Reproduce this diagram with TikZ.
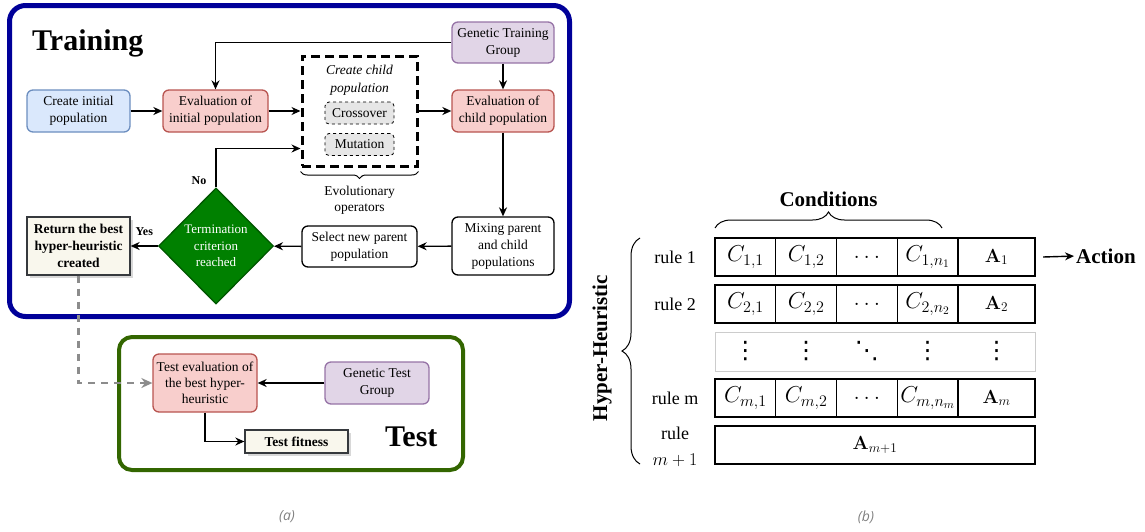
\documentclass[tikz,border=0pt]{standalone}
\usepackage{fix-cm}
\usepackage[no-math]{fontspec}
\setmainfont{Liberation Serif}
\newfontfamily\capfont{Open Sans}
\newfontfamily\dotsfont{DejaVu Sans}
\usetikzlibrary{positioning,shapes.geometric,arrows.meta,decorations.pathreplacing,shadows}

\definecolor{trainblue}{HTML}{000099}
\definecolor{testgreen}{HTML}{336600}
\definecolor{startfill}{HTML}{DAE8FC}
\definecolor{startline}{HTML}{6C8EBF}
\definecolor{evalfill}{HTML}{F8CECC}
\definecolor{evalline}{HTML}{B85450}
\definecolor{groupfill}{HTML}{E1D5E7}
\definecolor{groupline}{HTML}{9673A6}
\definecolor{resultfill}{HTML}{F9F7ED}
\definecolor{resultline}{HTML}{36393D}
\definecolor{opfill}{HTML}{E6E6E6}
\definecolor{termfill}{HTML}{008000}
\definecolor{termline}{HTML}{005700}

\begin{document}
\begin{tikzpicture}[x=1pt, y=-1pt,
        box/.style={rectangle, rounded corners=6pt, draw, line width=1.3pt, align=center, inner sep=1pt, font=\fontsize{13.5}{17}\selectfont, minimum height=42pt, minimum width=103pt},
        startbox/.style={box, fill=startfill, draw=startline},
        evalbox/.style={box, fill=evalfill, draw=evalline},
        groupbox/.style={box, fill=groupfill, draw=groupline},
        plainbox/.style={box, fill=white, draw=black},
        resultbox/.style={box, rounded corners=0pt, fill=resultfill, draw=resultline, font=\bfseries\fontsize{13.5}{17}\selectfont, drop shadow={shadow xshift=3pt, shadow yshift=-3pt, fill=black!30}},
        opbox/.style={box, rounded corners=4pt, dashed, line width=0.8pt, fill=opfill, minimum width=69pt, minimum height=22pt},
        opsframe/.style={rectangle, draw, line width=3pt, dash pattern=on 9pt off 5pt, minimum width=115pt, minimum height=110pt, inner sep=0pt},
        decision/.style={diamond, aspect=1, fill=termfill, draw=termline, line width=1.3pt, text=white, align=center, font=\fontsize{13}{16.5}\selectfont, minimum width=115pt, minimum height=116pt, inner sep=0pt},
        title/.style={font=\bfseries\fontsize{30}{34}\selectfont, inner sep=0pt},
        lbl/.style={font=\bfseries\fontsize{12}{14}\selectfont, inner sep=2pt},
        arrow/.style={-{Stealth[length=9pt,width=8pt]}, line width=1.4pt},
        dashlink/.style={-{Stealth[length=11pt,width=10pt]}, draw=black!45, line width=2.8pt, dash pattern=on 7pt off 6pt},
        trainframe/.style={draw=trainblue, line width=5pt, rounded corners=16pt},
        testframe/.style={draw=testgreen, line width=4pt, rounded corners=13pt},
        ccell/.style={rectangle, draw, line width=1.3pt, minimum width=60.75pt, minimum height=38pt, inner sep=1pt, outer sep=0pt, font=\fontsize{23}{27}\selectfont},
        acell/.style={ccell, minimum width=77pt, font=\fontsize{19}{23}\selectfont},
        dotsframe/.style={draw=black!20, line width=0.6pt},
        dotcell/.style={inner sep=0pt, font=\dotsfont\fontsize{24}{26}\selectfont},
        rulelbl/.style={align=center, font=\fontsize{18}{26}\selectfont},
        bigbold/.style={font=\bfseries\fontsize{21}{25}\selectfont, inner sep=0pt},
        brace/.style={decorate, line width=1pt},
        caption/.style={font=\capfont\itshape\fontsize{14}{16}\selectfont, text=black!50}
    ]
        \useasboundingbox (0,0) rectangle (1145,531);

        % Frames
        \draw[trainframe] (9.5,5.5) rectangle (569.5,316.5);
        \draw[testframe] (119,337) rectangle (463,470);

        % Nodes (a)
        \node[title, anchor=base west] (train) at (32,50) {Training};
        \node[startbox] (create) at (78.5,111) {Create initial\\population};
        \node[evalbox, minimum width=105pt] (evalinit) at (215.5,111) {Evaluation of\\initial population};
        \node[opsframe] (ops) at (359.5,111) {};
        \node[align=center, font=\itshape\fontsize{13.5}{18}\selectfont] (childtxt) at (359.5,80) {Create child\\population};
        \node[opbox] (cross) at (359.5,113) {Crossover};
        \node[opbox] (mut) at (359.5,144.5) {Mutation};
        \node[groupbox, minimum width=102pt, minimum height=41pt] (gtrain) at (503,42.5) {Genetic Training\\Group};
        \node[evalbox, minimum width=102pt] (evalchild) at (503,111) {Evaluation of\\child population};
        \node[plainbox, minimum width=102pt, minimum height=58pt] (mix) at (503,246) {Mixing parent\\and child\\populations};
        \node[plainbox, minimum width=115pt, minimum height=41pt] (select) at (359.5,246.5) {Select new parent\\population};
        \node[decision] (term) at (216,246) {Termination\\criterion\\reached};
        \node[resultbox, minimum height=58pt] (ret) at (78.5,246) {Return the best\\hyper-heuristic\\created};

        \node[evalbox, minimum width=104pt, minimum height=58pt, font=\fontsize{13.5}{16}\selectfont] (testeval) at (205,383) {Test evaluation of\\the best hyper-\\heuristic};
        \node[groupbox, minimum width=104pt] (gtest) at (377,383) {Genetic Test\\Group};
        \node[resultbox, minimum height=23pt] (fit) at (296.5,441.5) {Test fitness};
        \node[title, anchor=base west] (test) at (385,446) {Test};

        % Arrows (a)
        \draw[arrow] (create) -- (evalinit);
        \draw[arrow] (evalinit) -- (ops);
        \draw[arrow] (ops) -- (evalchild);
        \draw[arrow] (gtrain) -- (evalchild);
        \draw[arrow] (gtrain.west) -| (evalinit.north);
        \draw[arrow] (evalchild) -- (mix);
        \draw[arrow] (mix) -- (select);
        \draw[arrow] (select) -- (term);
        \draw[arrow] (term) -- node[lbl, above=8pt] {Yes} (ret);
        \draw[arrow] (term.north) |- node[lbl, pos=0, anchor=south east, xshift=-7pt] {No} ([yshift=19pt]ops.south west);
        \draw[brace, decoration={brace, amplitude=7pt}] ([yshift=-4pt]ops.south east) -- ([yshift=-4pt]ops.south west)
            node[midway, below=11pt, align=center, font=\fontsize{13.5}{16}\selectfont] {Evolutionary\\operators};
        \draw[dashlink] (ret.south) |- (testeval.west);
        \draw[arrow] (gtest) -- (testeval);
        \draw[arrow] (testeval.south) |- (fit);

        % Nodes (b)
        \node[rulelbl] (r1) at (675,257) {rule 1};
        \node[ccell] (c11) at (745.4,257) {$C_{1,1}$};
        \node[ccell, right=0pt of c11] (c12) {$C_{1,2}$};
        \node[ccell, right=0pt of c12] (c13) {$\dots$};
        \node[ccell, right=0pt of c13] (c14) {$C_{1,n_1}$};
        \node[acell, right=0pt of c14] (a1) {$\mathbf{A}_1$};

        \node[rulelbl] (r2) at (675,304) {rule 2};
        \node[ccell] (c21) at (745.4,304) {$C_{2,1}$};
        \node[ccell, right=0pt of c21] (c22) {$C_{2,2}$};
        \node[ccell, right=0pt of c22] (c23) {$\dots$};
        \node[ccell, right=0pt of c23] (c24) {$C_{2,n_2}$};
        \node[acell, right=0pt of c24] (a2) {$\mathbf{A}_2$};

        \coordinate (dotsrow) at (875,351.5);
        \draw[dotsframe] ([yshift=-9pt]c21.south west) rectangle ([yshift=-48pt]a2.south east);
        \node[dotcell] (d1) at (c11 |- dotsrow) {⋮};
        \node[dotcell] (d2) at (c12 |- dotsrow) {⋮};
        \node[dotcell] (d3) at (c13 |- dotsrow) {⋱};
        \node[dotcell] (d4) at (c14 |- dotsrow) {⋮};
        \node[dotcell] (d5) at (a1 |- dotsrow) {⋮};

        \node[rulelbl] (rm) at (675,398) {rule m};
        \node[ccell] (cm1) at (745.4,398) {$C_{m,1}$};
        \node[ccell, right=0pt of cm1] (cm2) {$C_{m,2}$};
        \node[ccell, right=0pt of cm2] (cm3) {$\dots$};
        \node[ccell, right=0pt of cm3] (cm4) {$C_{m,n_m}$};
        \node[acell, right=0pt of cm4] (am) {$\mathbf{A}_m$};

        \node[rulelbl] (rlast) at (675,447) {rule\\$m+1$};
        \node[acell, minimum width=320pt] (alast) at (875,445) {$\mathbf{A}_{m+1}$};

        % Annotations (b)
        \coordinate (hbtop) at (640,238);
        \coordinate (hbbot) at (640,464);
        \draw[brace, decoration={brace, amplitude=16pt}] ([yshift=10pt]c11.north west) -- ([xshift=-16pt, yshift=10pt]c14.north east)
            node[midway, above=21pt, bigbold] {Conditions};
        \draw[brace, decoration={brace, amplitude=18pt}] (hbbot) -- (hbtop);
        \node[bigbold, rotate=90] (hh) at (602,348) {Hyper-Heuristic};
        \node[bigbold, anchor=west] (action) at (1076,256) {Action};
        \draw[arrow, shorten >=2pt] ([xshift=8pt]a1.east) -- (action.west);

        % Captions
        \node[caption] (capa) at (287,517) {(a)};
        \node[caption] (capb) at (866,517) {(b)};
    \end{tikzpicture}
\end{document}
